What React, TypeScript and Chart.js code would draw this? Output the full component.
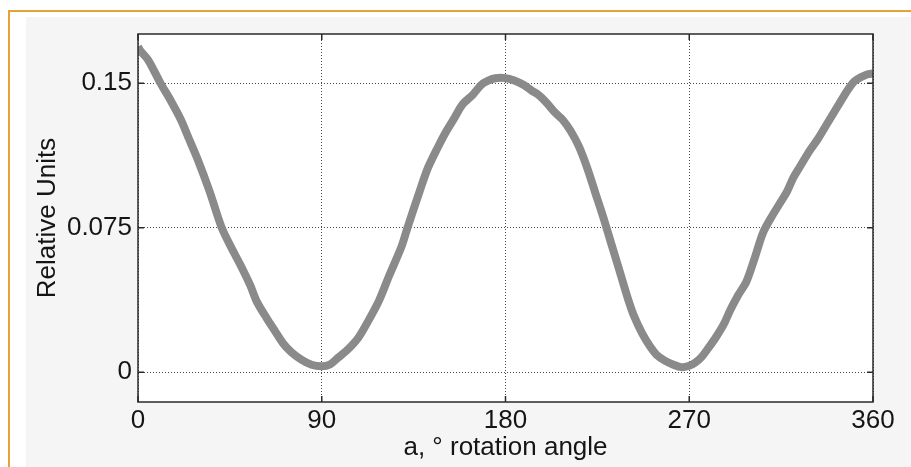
import React, { useEffect, useRef } from "react";
import { Chart, registerables } from "chart.js";

Chart.register(...registerables);

const angles = [
  0, 1, 5, 11, 16, 21, 25, 29, 35, 41, 46, 50, 55, 58, 63, 67, 71, 75, 80, 85,
  90, 94, 98, 103, 108, 113, 118, 123, 129, 132, 138, 142, 147, 151, 155, 159,
  164, 168, 171, 175, 180, 184, 189, 193, 196, 200, 204, 208, 212, 216, 220,
  224, 228, 232, 236, 240, 243, 247, 251, 254, 258, 262, 266, 270, 273, 276,
  279, 283, 287, 290, 294, 298, 302, 306, 310, 314, 318, 321, 325, 329, 333,
  337, 341, 345, 348, 351, 354, 357, 360,
];

const relativeUnits = [
  0.169, 0.167, 0.162, 0.15, 0.141, 0.131, 0.121, 0.111, 0.094, 0.075, 0.064,
  0.056, 0.045, 0.037, 0.028, 0.0215, 0.015, 0.0105, 0.0065, 0.0038, 0.003,
  0.004, 0.0075, 0.012, 0.018, 0.027, 0.037, 0.05, 0.065, 0.075, 0.094, 0.106,
  0.117, 0.125, 0.132, 0.139, 0.144, 0.149, 0.151, 0.1525, 0.1526, 0.1515,
  0.149, 0.146, 0.144, 0.14, 0.135, 0.131, 0.125, 0.117, 0.106, 0.093, 0.08,
  0.066, 0.052, 0.038, 0.029, 0.02, 0.013, 0.009, 0.006, 0.004, 0.0026, 0.0033,
  0.005, 0.0078, 0.012, 0.018, 0.025, 0.032, 0.04, 0.047, 0.059, 0.072, 0.08,
  0.087, 0.094, 0.101, 0.108, 0.115, 0.121, 0.128, 0.135, 0.142, 0.147, 0.151,
  0.153, 0.1545, 0.155,
];

const xTicks = [0, 90, 180, 270, 360];
const yTicks = [0, 0.075, 0.15];
const xTitle = "a, ° rotation angle";
const yTitle = "Relative Units";

const FONT = "'Liberation Sans', Arial, Helvetica, sans-serif";

const boxPlugin = {
  id: "matlabBox",
  beforeDraw(chart: any) {
    const { ctx, chartArea: a } = chart;
    ctx.save();
    ctx.fillStyle = "#ffffff";
    ctx.fillRect(a.left, a.top, a.right - a.left, a.bottom - a.top);
    ctx.restore();
  },
  afterDraw(chart: any) {
    const { ctx, chartArea: a, scales } = chart;
    ctx.save();
    ctx.strokeStyle = "#2a2a2a";
    ctx.lineWidth = 1.5;
    ctx.setLineDash([]);
    const len = 6;
    ctx.beginPath();
    for (const v of xTicks) {
      const px = scales.x.getPixelForValue(v);
      ctx.moveTo(px, a.bottom);
      ctx.lineTo(px, a.bottom - len);
      ctx.moveTo(px, a.top);
      ctx.lineTo(px, a.top + len);
    }
    for (const v of yTicks) {
      const py = scales.y.getPixelForValue(v);
      ctx.moveTo(a.left, py);
      ctx.lineTo(a.left + len, py);
      ctx.moveTo(a.right, py);
      ctx.lineTo(a.right - len, py);
    }
    ctx.stroke();
    ctx.strokeRect(a.left, a.top, a.right - a.left, a.bottom - a.top);
    ctx.restore();
  },
};

export default function App() {
  const ref = useRef<HTMLCanvasElement>(null);

  useEffect(() => {
    if (!ref.current) return;
    const chart = new Chart(ref.current, {
      type: "line",
      data: {
        datasets: [
          {
            data: angles.map((a, i) => ({ x: a, y: relativeUnits[i] })),
            borderColor: "#8a8a8a",
            borderWidth: 8,
            pointRadius: 0,
            tension: 0.3,
            fill: false,
          },
        ],
      },
      options: {
        animation: false,
        responsive: false,
        devicePixelRatio: 1,
        layout: { padding: { top: 34, right: 38, left: 0, bottom: 0 } },
        plugins: {
          legend: { display: false },
          tooltip: { enabled: false },
        },
        scales: {
          x: {
            type: "linear",
            min: 0,
            max: 360,
            afterBuildTicks: (s: any) => {
              s.ticks = xTicks.map((v) => ({ value: v }));
            },
            afterFit: (s: any) => {
              s.height = 65;
            },
            grid: {
              color: "#4a4a4a",
              lineWidth: 1,
              drawTicks: false,
            },
            border: { display: false, dash: [1, 2] },
            ticks: {
              padding: 3,
              color: "#151515",
              font: { family: FONT, size: 26 },
              maxRotation: 0,
              callback: (v: any) => String(v),
            },
            title: {
              display: true,
              text: xTitle,
              color: "#151515",
              font: { family: FONT, size: 26 },
              padding: { top: 0, bottom: 4 },
            },
          },
          y: {
            type: "linear",
            min: -0.0155,
            max: 0.1755,
            afterBuildTicks: (s: any) => {
              s.ticks = yTicks.map((v) => ({ value: v }));
            },
            afterFit: (s: any) => {
              s.width = 138;
            },
            grid: {
              color: "#4a4a4a",
              lineWidth: 1,
              drawTicks: false,
            },
            border: { display: false, dash: [1, 2] },
            ticks: {
              padding: 6,
              color: "#151515",
              font: { family: FONT, size: 26 },
              callback: (v: any) => String(v),
            },
            title: {
              display: true,
              text: yTitle,
              color: "#151515",
              font: { family: FONT, size: 26 },
              padding: { top: 32, bottom: 0 },
            },
          },
        },
      },
      plugins: [boxPlugin],
    });
    return () => chart.destroy();
  }, []);

  return (
    <div
      style={{
        position: "absolute",
        left: 0,
        top: 0,
        width: 911,
        height: 467,
        overflow: "hidden",
        background: "#ffffff",
      }}
    >
      <div
        style={{
          position: "absolute",
          left: 8,
          top: 10,
          width: 1000,
          height: 600,
          borderTop: "2px solid #e6a13a",
          borderLeft: "2px solid #e6a13a",
          background: "#ffffff",
        }}
      />
      <div
        style={{
          position: "absolute",
          left: 26,
          top: 17,
          width: 1000,
          height: 600,
          background: "#f5f5f5",
        }}
      />
      <canvas
        ref={ref}
        width={911}
        height={467}
        style={{ position: "absolute", left: 0, top: 0, width: 911, height: 467 }}
      />
    </div>
  );
}
